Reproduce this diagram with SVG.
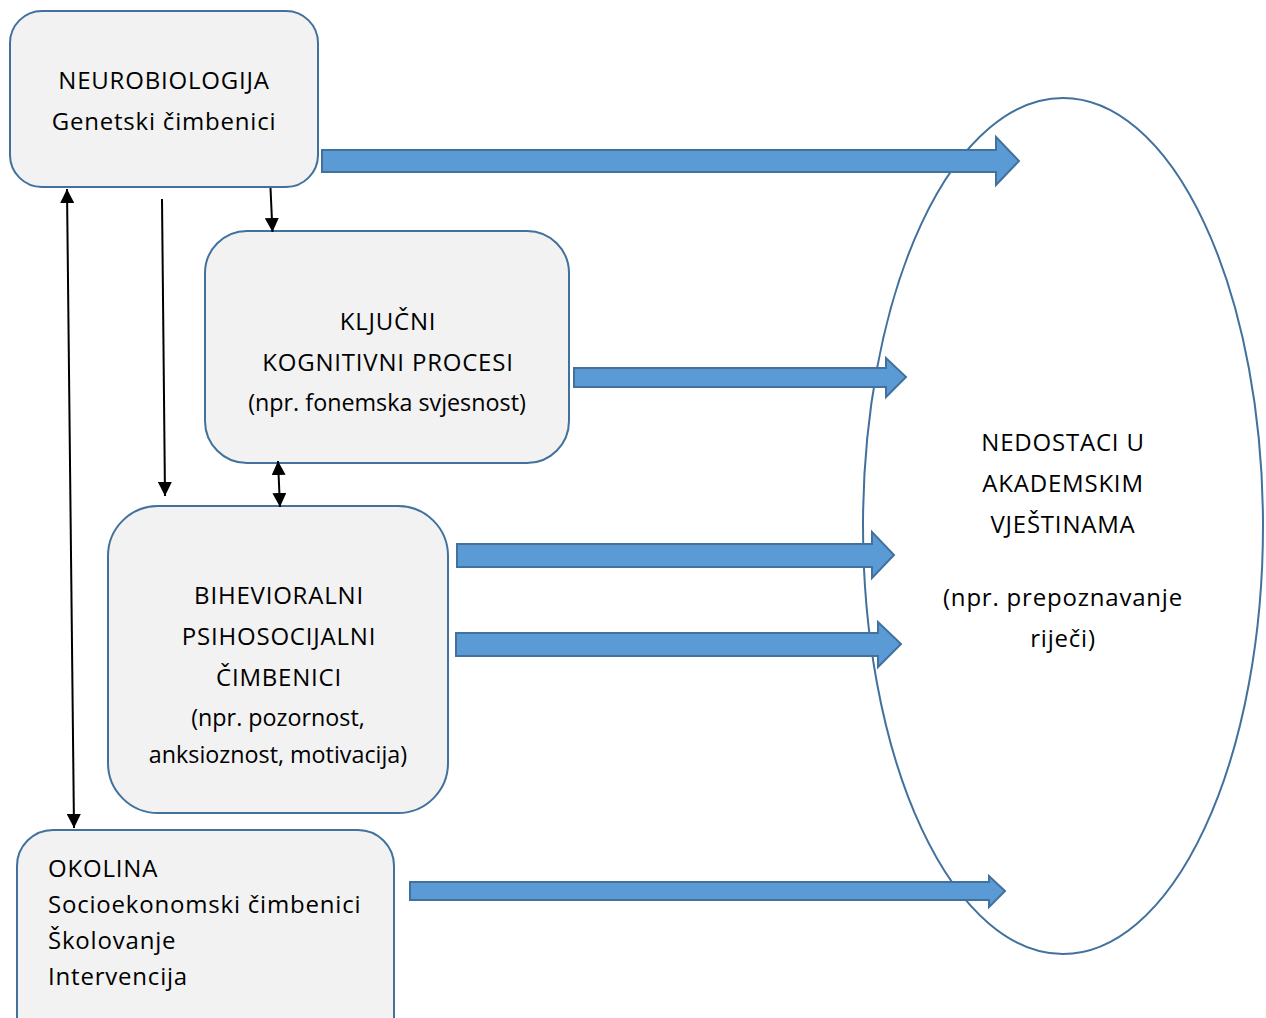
<svg xmlns="http://www.w3.org/2000/svg" width="1266" height="1018" viewBox="0 0 1266 1018">
<style>
.box{fill:#F2F2F2;stroke:#41719C;stroke-width:2}
.ell{fill:#FFFFFF;stroke:#41719C;stroke-width:2}
.blk{fill:#5B9BD5;stroke:#41719C;stroke-width:2;stroke-linejoin:miter}
.ln{stroke:#000;stroke-width:2;fill:none}
text{font-family:"Open Sans","Liberation Sans",Arial,sans-serif;font-size:24px;letter-spacing:0.8px;fill:#000}
.c{text-anchor:middle}
.p{font-size:23.3px;letter-spacing:0}
</style>
<defs>
<marker id="ah" viewBox="0 0 10 10" refX="10" refY="5" markerWidth="7" markerHeight="7" markerUnits="strokeWidth" orient="auto-start-reverse">
<path d="M0,0 L10,5 L0,10 Z" fill="#000"/>
</marker>
</defs>
<rect width="1266" height="1018" fill="#FFFFFF"/>
<g id="nedostaci">
<ellipse class="ell" cx="1063" cy="526" rx="200" ry="428"/>
<text class="c" x="1063" y="451">NEDOSTACI U</text>
<text class="c" x="1063" y="492">AKADEMSKIM</text>
<text class="c" x="1063" y="533">VJEŠTINAMA</text>
<text class="c" x="1063" y="606">(npr. prepoznavanje</text>
<text class="c" x="1063" y="647">riječi)</text>
</g>
<g id="neurobiologija">
<rect class="box" x="10" y="11" width="308" height="176" rx="32"/>
<text class="c" x="164" y="89">NEUROBIOLOGIJA</text>
<text class="c" x="164" y="130">Genetski čimbenici</text>
</g>
<g id="kognitivni">
<rect class="box" x="205" y="231" width="364" height="232" rx="42"/>
<text class="c" x="388" y="330">KLJUČNI</text>
<text class="c" x="388" y="371">KOGNITIVNI PROCESI</text>
<text class="c p" x="387" y="411">(npr. fonemska svjesnost)</text>
</g>
<g id="bihevioralni">
<rect class="box" x="108" y="506" width="340" height="307" rx="50"/>
<text class="c" x="279" y="604">BIHEVIORALNI</text>
<text class="c" x="279" y="645">PSIHOSOCIJALNI</text>
<text class="c" x="279" y="686">ČIMBENICI</text>
<text class="c p" x="278" y="726">(npr. pozornost,</text>
<text class="c p" x="278" y="763">anksioznost, motivacija)</text>
</g>
<g id="okolina">
<rect class="box" x="17" y="830" width="377" height="230" rx="36"/>
<text x="48" y="877">OKOLINA</text>
<text x="48" y="913">Socioekonomski čimbenici</text>
<text x="48" y="949">Školovanje</text>
<text x="48" y="985">Intervencija</text>
</g>
<g id="connectors">
<path class="blk" d="M322,150 H996 V137 L1019,161 L996,185 V172 H322 Z"/>
<path class="blk" d="M574,368 H886 V358 L906,377 L886,397 V387 H574 Z"/>
<path class="blk" d="M457,544 H872 V532 L894,555 L872,578 V567 H457 Z"/>
<path class="blk" d="M456,633 H878 V622 L901,644 L878,667 V656 H456 Z"/>
<path class="blk" d="M410,882 H989 V876 L1005,891 L989,907 V900 H410 Z"/>
<line class="ln" x1="270.5" y1="188" x2="272.5" y2="232" marker-end="url(#ah)"/>
<line class="ln" x1="162" y1="199" x2="165" y2="496" marker-end="url(#ah)"/>
<line class="ln" x1="278" y1="461" x2="280" y2="507" marker-start="url(#ah)" marker-end="url(#ah)"/>
<line class="ln" x1="67" y1="189" x2="74" y2="828" marker-start="url(#ah)" marker-end="url(#ah)"/>
</g>
</svg>
